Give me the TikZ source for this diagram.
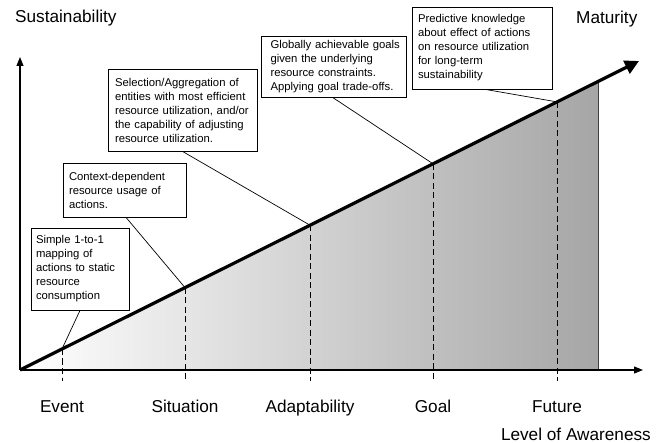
\documentclass[tikz,border=0pt]{standalone}
\usepackage{fontspec}
\setmainfont{Liberation Sans}
\usetikzlibrary{arrows.meta}
\begin{document}
\begin{tikzpicture}[x=1pt,y=-1pt,
  boxnode/.style={draw=black, line width=0.8pt, fill=white, align=left,
    font=\fontsize{11.3}{14}\selectfont, inner ysep=0pt, anchor=center},
  biglabel/.style={font=\fontsize{17.2}{20}\selectfont, inner sep=0pt},
  axisline/.style={line width=1.1pt, -{Triangle[length=9pt,width=7pt]}},
  mainline/.style={line width=3.2pt, -{Triangle[length=14pt,width=14pt]}},
  levelline/.style={line width=0.9pt, dash pattern=on 6pt off 3.5pt},
  connector/.style={line width=0.7pt}
]
\useasboundingbox (0,0) rectangle (669,443);
% shading
\shade[left color=white, right color=black!35] (20,370) -- (598,81.5) -- (598,370) -- cycle;
\draw[line width=0.8pt, black!75] (598,81.5) -- (598,370);
% coordinates
\coordinate (o) at (20,370);
\coordinate (ytip) at (20,57);
\coordinate (xtip) at (643,370);
\coordinate (mtip) at (639,61);
\coordinate (ev) at (62,349);
\coordinate (si) at (185,287.6);
\coordinate (ad) at (310,225.2);
\coordinate (go) at (433,163.8);
\coordinate (fu) at (557,101.9);
\coordinate (evb) at (62,381);
\coordinate (sib) at (185,381);
\coordinate (adb) at (310,381);
\coordinate (gob) at (433,381);
\coordinate (fub) at (557,381);
% dashed levels
\draw[levelline] (ev) -- (evb);
\draw[levelline] (si) -- (sib);
\draw[levelline] (ad) -- (adb);
\draw[levelline] (go) -- (gob);
\draw[levelline] (fu) -- (fub);
% axes
\draw[axisline] (o) -- (ytip);
\draw[axisline] (o) -- (xtip);
\draw[mainline] (o) -- (mtip);
% labels
\node[biglabel, anchor=base west] (sus) at (15,23) {Sustainability};
\node[biglabel, anchor=base west] (mat) at (576,24) {Maturity};
\node[biglabel, anchor=base east] (loa) at (651,440) {Level of Awareness};
\node[biglabel, anchor=base] (tev) at (62,412) {Event};
\node[biglabel, anchor=base] (tsi) at (185,412) {Situation};
\node[biglabel, anchor=base] (tad) at (310,412) {Adaptability};
\node[biglabel, anchor=base] (tgo) at (433,412) {Goal};
\node[biglabel, anchor=base] (tfu) at (557,412) {Future};
% boxes
\node[boxnode, inner xsep=5pt, text width=88pt, minimum height=82pt] (b1) at (80,269)
  {\mbox{Simple 1-to-1}\\\mbox{mapping of}\\\mbox{actions to static}\\\mbox{resource}\\\mbox{consumption}};
\node[boxnode, inner xsep=6pt, text width=111pt, minimum height=54pt] (b2) at (124.5,190)
  {\mbox{Context-dependent}\\\mbox{resource usage of}\\\mbox{actions.}};
\node[boxnode, inner xsep=7pt, text width=135pt, minimum height=82pt] (b3) at (182.5,110)
  {\mbox{Selection/Aggregation of}\\\mbox{entities with most efficient}\\\mbox{resource utilization, and/or}\\\mbox{the capability of adjusting}\\\mbox{resource utilization.}};
\node[boxnode, inner xsep=9pt, text width=127pt, minimum height=60.6pt] (b4) at (334,67)
  {\mbox{Globally achievable goals}\\\mbox{given the underlying}\\\mbox{resource constraints.}\\\mbox{Applying goal trade-offs.}};
\node[boxnode, inner xsep=6pt, text width=128.5pt, minimum height=82pt] (b5) at (482.25,48)
  {\mbox{Predictive knowledge}\\\mbox{about effect of actions}\\\mbox{on resource utilization}\\\mbox{for long-term}\\\mbox{sustainability}};
% connectors
\draw[connector] (b1.south) -- (ev);
\draw[connector] ([xshift=1.5pt]b2.south) -- (si);
\draw[connector] (b3.south) -- (ad);
\draw[connector] ([xshift=-1pt]b4.south) -- (go);
\draw[connector] ([xshift=3pt]b5.south) -- (fu);
\end{tikzpicture}
\end{document}
